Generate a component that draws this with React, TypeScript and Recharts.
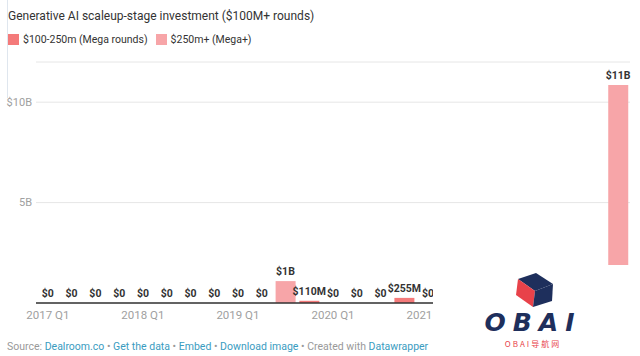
import React from "react";
import { ComposedChart, Bar, Line, XAxis, YAxis, CartesianGrid, LabelList } from "recharts";

const categories = [
  "2017 Q1", "2017 Q2", "2017 Q3", "2017 Q4",
  "2018 Q1", "2018 Q2", "2018 Q3", "2018 Q4",
  "2019 Q1", "2019 Q2", "2019 Q3", "2019 Q4",
  "2020 Q1", "2020 Q2", "2020 Q3", "2020 Q4",
  "2021 Q1", "2021 Q2", "2021 Q3", "2021 Q4",
  "2022 Q1", "2022 Q2", "2022 Q3", "2022 Q4",
  "2023 Q1",
];
// $M, $100-250m (Mega rounds)
const megaRounds = [
  0, 0, 0, 0,
  0, 0, 0, 0,
  0, 0, 0, 110,
  0, 0, 0, 255,
  0, 0, 0, 0,
  0, 0, 0, 0,
  0,
];
// $M, $250m+ (Mega+)
const megaPlus = [
  0, 0, 0, 0,
  0, 0, 0, 0,
  0, 0, 1090, 0,
  0, 0, 0, 0,
  0, 0, 0, 0,
  0, 0, 0, 0,
  10850,
];
const yTicks = [5000, 10000];
const yTickLabels = ["5B", "$10B"];
// visible x tick labels (later years are hidden behind the watermark in the reference)
const xTickLabels = ["2017 Q1", "2018 Q1", "2019 Q1", "2020 Q1", "2021 Q1"];

const seriesNames = ["$100-250m (Mega rounds)", "$250m+ (Mega+)"];
const colors = ["#f47a7a", "#f7a5a8"];

const data = categories.map((c, i) => ({
  cat: c,
  mega: megaRounds[i],
  megaPlus: megaPlus[i],
  total: megaRounds[i] + megaPlus[i],
}));

const fmt = (v: number) => {
  if (v === 0) return "$0";
  if (v >= 1000) return `$${Math.round(v / 1000)}B`;
  return `$${v}M`;
};

const FONT = "Roboto, 'Noto Sans', sans-serif";

const TotalLabel = (props: any) => {
  const { x, y, value } = props;
  return (
    <text
      x={x}
      y={y - 6}
      textAnchor="middle"
      fontFamily={FONT}
      fontSize={10.5}
      fontWeight={700}
      fill="#333"
    >
      {fmt(Number(value))}
    </text>
  );
};

const XTick = (props: any) => {
  const { x, y, payload } = props;
  if (!xTickLabels.includes(payload.value)) return null;
  return (
    <text x={x} y={y} dy={12} textAnchor="middle" fontFamily={FONT} fontSize={11.5} fill="#a0a0a0">
      {payload.value}
    </text>
  );
};

const Logo = () => (
  <div style={{ position: "absolute", left: 433, top: 265, width: 207, height: 91, background: "#fff" }}>
    <svg width={207} height={91} style={{ position: "absolute", left: 0, top: 0 }}>
      <polygon points="85,14 103,8 120,19 102,26" fill="#1e2f5c" />
      <polygon points="85,14 102,26 100,42 83,30" fill="#e8424a" />
      <polygon points="102,26 120,19 119,36 100,42" fill="#1e2f5c" />
      <text
        x={100}
        y={66}
        textAnchor="middle"
        fontFamily="'DejaVu Sans', sans-serif"
        fontWeight={700}
        fontStyle="italic"
        fontSize={25}
        letterSpacing={7}
        fill="#1e2f5c"
      >
        OBAI
      </text>
      <text
        x={100}
        y={82}
        textAnchor="middle"
        fontFamily="'Noto Sans CJK SC', sans-serif"
        fontSize={8}
        letterSpacing={2}
        fill="#e8424a"
      >
        OBAI导航网
      </text>
    </svg>
  </div>
);

export default function App() {
  return (
    <div
      style={{
        position: "absolute",
        left: 0,
        top: 0,
        width: 640,
        height: 356,
        background: "#fff",
        fontFamily: FONT,
        overflow: "hidden",
      }}
    >
      <div style={{ position: "absolute", left: 7, top: 0, width: 1, height: 98, background: "#dfe6ee" }} />
      <div style={{ position: "absolute", left: 8, top: 9, fontSize: 12, color: "#333", whiteSpace: "nowrap" }}>
        Generative AI scaleup-stage investment ($100M+ rounds)
      </div>
      <div
        style={{
          position: "absolute",
          left: 8,
          top: 33,
          fontSize: 10.5,
          color: "#333",
          display: "flex",
          alignItems: "center",
          whiteSpace: "nowrap",
        }}
      >
        {seriesNames.map((n, i) => (
          <div key={n} style={{ display: "flex", alignItems: "center", marginRight: 8 }}>
            <div style={{ width: 11, height: 11, background: colors[i], marginRight: 4 }} />
            <span>{n}</span>
          </div>
        ))}
      </div>
      <div style={{ position: "absolute", left: 0, top: 0 }}>
        <ComposedChart
          width={640}
          height={356}
          data={data}
          margin={{ top: 62, right: 10, bottom: 23, left: 0 }}
          barSize={20}
        >
          <CartesianGrid horizontal vertical={false} stroke="#e6e6e6" />
          <YAxis
            type="number"
            domain={[0, 12000]}
            ticks={yTicks}
            width={36}
            axisLine={false}
            tickLine={false}
            tickSize={0}
            tickMargin={4}
            tick={{ fontSize: 11, fill: "#a0a0a0", fontFamily: FONT }}
            tickFormatter={(v: number) => yTickLabels[yTicks.indexOf(v)]}
          />
          <XAxis
            dataKey="cat"
            height={30}
            interval={0}
            axisLine={{ stroke: "#333", strokeWidth: 1.5 }}
            tickLine={false}
            tickSize={0}
            tickMargin={4}
            tick={<XTick />}
          />
          <Bar dataKey="mega" stackId="a" fill={colors[0]} isAnimationActive={false} />
          <Bar dataKey="megaPlus" stackId="a" fill={colors[1]} isAnimationActive={false} />
          <Line
            dataKey="total"
            stroke="none"
            dot={false}
            activeDot={false}
            legendType="none"
            isAnimationActive={false}
          >
            <LabelList dataKey="total" content={<TotalLabel />} />
          </Line>
        </ComposedChart>
      </div>
      <div
        style={{
          position: "absolute",
          left: 7,
          top: 340,
          fontSize: 10.5,
          color: "#999",
          whiteSpace: "nowrap",
        }}
      >
        Source: <span style={{ color: "#3a9cbf" }}>Dealroom.co</span> • <span style={{ color: "#3a9cbf" }}>Get the data</span> •{" "}
        <span style={{ color: "#3a9cbf" }}>Embed</span> • <span style={{ color: "#3a9cbf" }}>Download image</span> • Created with{" "}
        <span style={{ color: "#3a9cbf" }}>Datawrapper</span>
      </div>
      <Logo />
    </div>
  );
}
